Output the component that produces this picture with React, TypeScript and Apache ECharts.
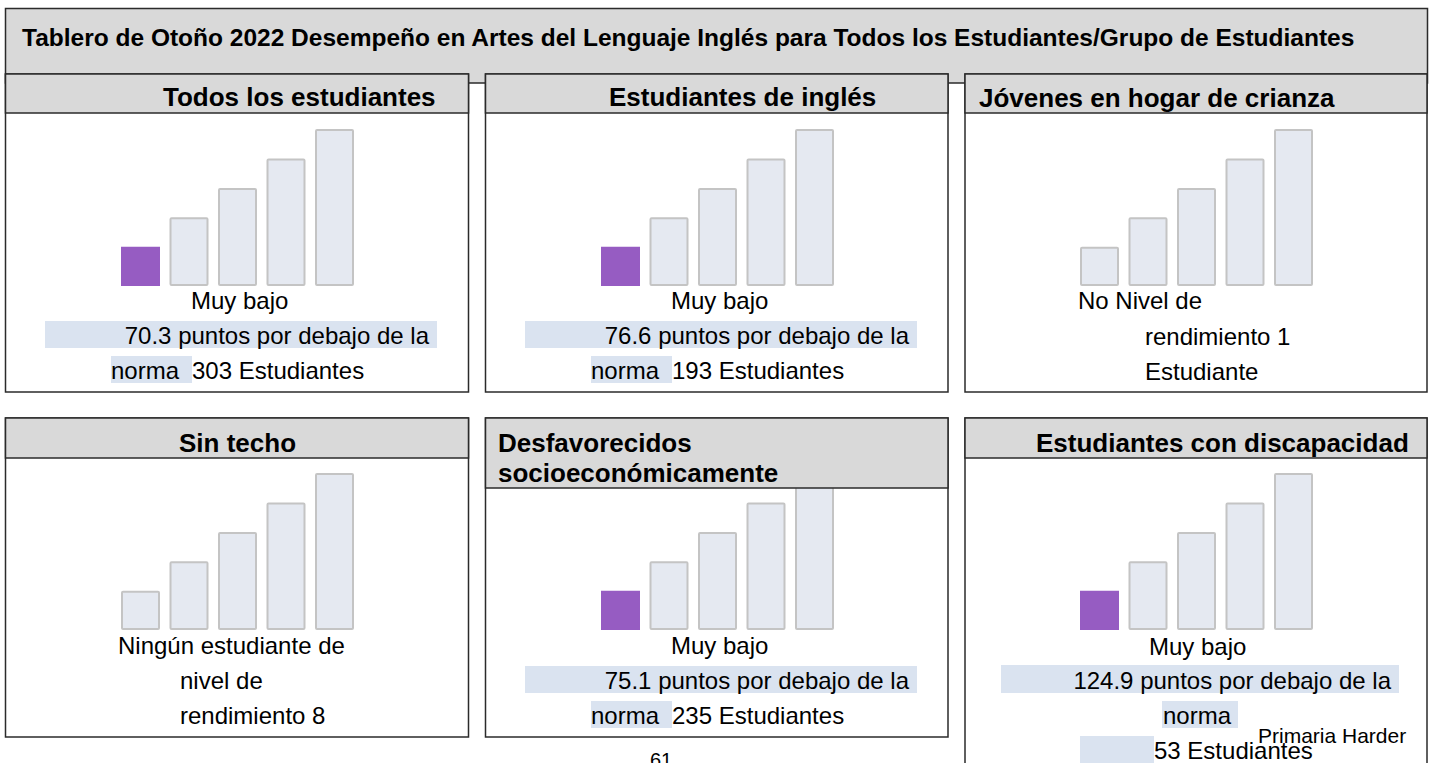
import React, { useEffect, useRef } from "react";
import * as echarts from "echarts";

// ---------- DATA ----------
const mainTitle =
  "Tablero de Otoño 2022 Desempeño en Artes del Lenguaje Inglés para Todos los Estudiantes/Grupo de Estudiantes";
const groupNames = [
  "Todos los estudiantes",
  "Estudiantes de inglés",
  "Jóvenes en hogar de crianza",
  "Sin techo",
  "Desfavorecidos socioeconómicamente",
  "Estudiantes con discapacidad",
];
const levelCategories = ["1", "2", "3", "4", "5"];
const levelBarHeights = [4, 7, 10, 13, 16];
const currentLevel = [0, 0, -1, -1, 0, 0];
const statusLabels = [
  "Muy bajo",
  "Muy bajo",
  "No Nivel de rendimiento",
  "Ningún estudiante de nivel de rendimiento",
  "Muy bajo",
  "Muy bajo",
];
const pointsBelowStandard = [70.3, 76.6, null, null, 75.1, 124.9];
const studentCounts = [303, 193, 1, 8, 235, 53];
const schoolName = "Primaria Harder";
const pageNumber = "61";

// ---------- STYLE / LAYOUT ----------
const FONT = '"Liberation Sans", Arial, Helvetica, sans-serif';
const GREY = "#d9d9d9";
const BORDER = "#2b2b2b";
const HL = "#dae3f0";
const PURPLE = "#965cc2";
const BAR_FILL = "#e5e9f1";
const BAR_BORDER = "#c4c4c4";

const panelBoxes = [
  { x: 5.5, y: 74, w: 463, h: 318, hh: 39 },
  { x: 485.5, y: 74, w: 462.5, h: 318, hh: 39 },
  { x: 965, y: 74, w: 462, h: 318, hh: 39 },
  { x: 5.5, y: 418, w: 463, h: 319, hh: 40 },
  { x: 485.5, y: 418, w: 462.5, h: 319, hh: 70 },
  { x: 965, y: 418, w: 462, h: 420, hh: 40 },
];
const gridSpots = [
  { left: 116.25, top: 129 },
  { left: 596.25, top: 129 },
  { left: 1075.25, top: 129 },
  { left: 116.25, top: 473 },
  { left: 596.25, top: 473 },
  { left: 1075.25, top: 473 },
];
const titleSpots = [
  { x: 163, y: 97 },
  { x: 609, y: 97 },
  { x: 979, y: 98 },
  { x: 179, y: 443 },
  { x: 498, y: 443 },
  { x: 1036, y: 443 },
];

function txt(text: string, x: number, y: number, size: number, bold = false, align = "left") {
  return {
    type: "text",
    x,
    y,
    z: 60,
    style: {
      text,
      fill: "#000",
      fontFamily: FONT,
      fontSize: size,
      fontWeight: bold ? "bold" : "normal",
      align,
      verticalAlign: "middle",
    },
  };
}
function rect(x: number, y: number, w: number, h: number, fill: string, stroke: string | null, z: number) {
  return {
    type: "rect",
    z,
    shape: { x, y, width: w, height: h },
    style: stroke ? { fill, stroke, lineWidth: 1.5 } : { fill },
  };
}

function bodyElements(i: number): any[] {
  const els: any[] = [];
  const count = studentCounts[i];
  const pts = pointsBelowStandard[i];
  const words = statusLabels[i].split(" ");
  if (i === 0 || i === 1 || i === 4) {
    const dx = i === 0 ? 0 : 480;
    const dy = i === 4 ? 345 : 0;
    els.push(txt(statusLabels[i], 191 + dx, 300 + dy, 24));
    els.push(rect(45 + dx, 321 + dy, 392, 27, HL, null, 55));
    els.push(txt(`${pts} puntos por debajo de la`, 429 + dx, 335 + dy, 24, false, "right"));
    els.push(rect(111 + dx, 356 + dy, 81, 27, HL, null, 55));
    els.push(txt("norma", 111 + dx, 370 + dy, 24));
    els.push(txt(`${count} Estudiantes`, 192 + dx, 370 + dy, 24));
  } else if (i === 5) {
    els.push(txt(statusLabels[i], 1149, 646, 24));
    els.push(rect(1001, 665, 398, 28, HL, null, 55));
    els.push(txt(`${pts} puntos por debajo de la`, 1391, 680, 24, false, "right"));
    els.push(rect(1162, 701, 76, 27, HL, null, 55));
    els.push(txt("norma", 1163, 715, 24));
    els.push(rect(1080, 736, 74, 30, HL, null, 55));
    els.push(txt(`${count} Estudiantes`, 1154, 750, 24));
    els.push(txt(schoolName, 1258, 735, 21));
  } else if (i === 2) {
    els.push(txt(words.slice(0, 3).join(" "), 1078, 300, 24));
    els.push(txt(`${words.slice(3).join(" ")} ${count}`, 1145, 336, 24));
    els.push(txt(count === 1 ? "Estudiante" : "Estudiantes", 1145, 371, 24));
  } else if (i === 3) {
    els.push(txt(words.slice(0, 3).join(" "), 118, 645, 24));
    els.push(txt(words.slice(3, 5).join(" "), 180, 680, 24));
    els.push(txt(`${words.slice(5).join(" ")} ${count}`, 180, 715, 24));
  }
  return els;
}

function buildOption() {
  const elements: any[] = [];
  elements.push(rect(5.5, 8.5, 1422, 74.5, GREY, BORDER, 0));
  elements.push(txt(mainTitle, 22, 37, 24.5, true));
  panelBoxes.forEach((p, i) => {
    elements.push(rect(p.x, p.y, p.w, p.h, "#fff", BORDER, 1));
    elements.push(rect(p.x, p.y, p.w, p.hh, GREY, BORDER, 50));
    const t = titleSpots[i];
    if (i === 4) {
      const w = groupNames[i].split(" ");
      elements.push(txt(w[0], t.x, t.y, 26, true));
      elements.push(txt(w.slice(1).join(" "), t.x, t.y + 30, 26, true));
    } else {
      elements.push(txt(groupNames[i], t.x, t.y, 26, true));
    }
    bodyElements(i).forEach((e) => elements.push(e));
  });
  elements.push(txt(pageNumber, 650, 760, 20));

  return {
    animation: false,
    backgroundColor: "#fff",
    grid: gridSpots.map((g) => ({ left: g.left, top: g.top, width: 242.5, height: 157 })),
    xAxis: gridSpots.map((_, i) => ({
      type: "category",
      gridIndex: i,
      data: levelCategories,
      show: false,
    })),
    yAxis: gridSpots.map((_, i) => ({
      type: "value",
      gridIndex: i,
      min: 0,
      max: 16,
      show: false,
    })),
    series: gridSpots.map((_, i) => ({
      type: "bar",
      xAxisIndex: i,
      yAxisIndex: i,
      barWidth: 39,
      z: 2,
      silent: true,
      data: levelBarHeights.map((v, k) => ({
        value: v,
        itemStyle:
          k === currentLevel[i]
            ? { color: PURPLE, borderWidth: 0 }
            : { color: BAR_FILL, borderColor: BAR_BORDER, borderWidth: 2, borderRadius: 1 },
      })),
    })),
    graphic: { elements },
  };
}

export default function App() {
  const ref = useRef<HTMLDivElement>(null);
  useEffect(() => {
    const chart = echarts.init(ref.current!, null, { renderer: "svg" });
    chart.setOption(buildOption() as any);
    return () => chart.dispose();
  }, []);
  return (
    <div
      ref={ref}
      style={{ position: "absolute", left: 0, top: 0, width: 1433, height: 763, background: "#fff" }}
    />
  );
}
